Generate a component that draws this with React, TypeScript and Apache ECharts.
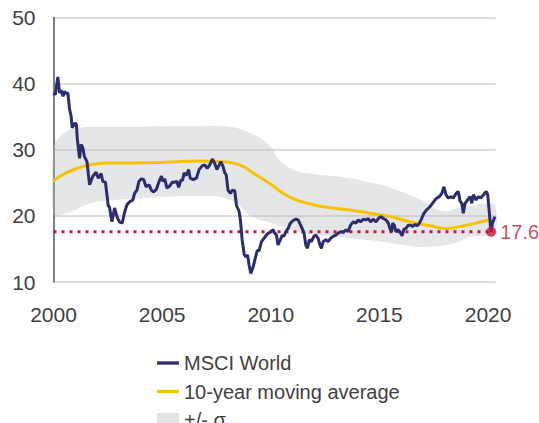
import React, { useEffect, useRef } from "react";
import * as echarts from "echarts";

// MSCI World valuation series
const msciYears = [
  2000.0, 2000.08, 2000.2, 2000.28, 2000.35, 2000.44, 2000.51, 2000.59, 2000.66, 2000.74, 2000.81, 2000.86, 2000.97,
  2001.05, 2001.1, 2001.2, 2001.27, 2001.35, 2001.42, 2001.54, 2001.66, 2001.81, 2001.96, 2002.06, 2002.19, 2002.27,
  2002.39, 2002.47, 2002.52, 2002.57, 2002.69, 2002.81, 2002.92, 2003.03, 2003.16, 2003.26, 2003.38, 2003.53, 2003.65,
  2003.73, 2003.84, 2003.93, 2004.04, 2004.15, 2004.26, 2004.4, 2004.5, 2004.61, 2004.73, 2004.86, 2004.97, 2005.04,
  2005.12, 2005.22, 2005.34, 2005.47, 2005.58, 2005.68, 2005.76, 2005.86, 2005.94, 2006.01, 2006.11, 2006.22, 2006.29,
  2006.43, 2006.58, 2006.7, 2006.85, 2006.96, 2007.07, 2007.19, 2007.31, 2007.41, 2007.52, 2007.61, 2007.7, 2007.8,
  2007.88, 2007.95, 2008.03, 2008.14, 2008.24, 2008.34, 2008.42, 2008.54, 2008.6, 2008.68, 2008.78, 2008.85, 2008.93,
  2009.0, 2009.08, 2009.19, 2009.3, 2009.38, 2009.46, 2009.57, 2009.73, 2009.85, 2009.96, 2010.11, 2010.18, 2010.26,
  2010.33, 2010.44, 2010.53, 2010.6, 2010.69, 2010.8, 2010.9, 2011.03, 2011.15, 2011.26, 2011.33, 2011.44, 2011.53,
  2011.61, 2011.69, 2011.77, 2011.87, 2011.98, 2012.07, 2012.18, 2012.26, 2012.33, 2012.41, 2012.53, 2012.64, 2012.75,
  2012.87, 2012.99, 2013.1, 2013.21, 2013.34, 2013.46, 2013.56, 2013.67, 2013.8, 2013.92, 2014.02, 2014.13, 2014.25,
  2014.38, 2014.49, 2014.59, 2014.71, 2014.84, 2014.95, 2015.06, 2015.18, 2015.3, 2015.41, 2015.48, 2015.56, 2015.61,
  2015.68, 2015.76, 2015.87, 2015.98, 2016.04, 2016.13, 2016.22, 2016.33, 2016.44, 2016.53, 2016.64, 2016.74, 2016.84,
  2016.94, 2017.05, 2017.17, 2017.3, 2017.4, 2017.51, 2017.64, 2017.76, 2017.87, 2017.97, 2018.06, 2018.17, 2018.28,
  2018.4, 2018.53, 2018.63, 2018.71, 2018.79, 2018.86, 2018.94, 2019.05, 2019.17, 2019.25, 2019.32, 2019.45, 2019.55,
  2019.66, 2019.79, 2019.91, 2019.98, 2020.06, 2020.11, 2020.14, 2020.2, 2020.28, 2020.32,
];
const msciValues = [
  38.6, 38.3, 41.0, 38.6, 39.0, 38.1, 38.8, 38.5, 38.6, 36.1, 35.1, 33.3, 34.0,
  33.9, 31.5, 28.7, 30.8, 30.3, 29.0, 28.2, 24.7, 26.0, 26.6, 25.7, 26.4, 25.2,
  25.1, 22.9, 21.5, 21.4, 19.1, 21.2, 19.9, 19.1, 18.9, 20.4, 21.7, 22.2, 22.4,
  23.4, 23.9, 25.2, 25.6, 25.5, 24.4, 24.7, 23.9, 23.6, 24.0, 25.2, 26.0, 25.2,
  25.6, 24.2, 24.5, 25.1, 25.1, 25.2, 24.3, 25.4, 25.4, 26.5, 26.1, 27.0, 25.7,
  25.5, 25.7, 27.0, 27.6, 27.7, 27.2, 27.7, 28.6, 28.0, 27.0, 27.6, 28.2, 27.5,
  26.5, 26.2, 23.9, 23.4, 23.9, 23.8, 21.6, 20.7, 19.4, 16.4, 14.1, 13.8, 14.1,
  12.6, 11.3, 12.3, 13.8, 14.8, 14.7, 16.1, 16.8, 17.3, 17.5, 17.9, 17.4, 17.1,
  15.6, 16.4, 17.1, 16.9, 17.6, 18.1, 18.9, 19.3, 19.5, 19.4, 18.9, 18.1, 17.4,
  15.6, 15.1, 16.4, 16.1, 16.9, 17.1, 16.6, 15.6, 15.1, 16.1, 16.4, 16.1, 16.6,
  16.9, 17.1, 17.4, 17.6, 17.5, 17.9, 17.6, 18.6, 19.1, 18.9, 19.4, 19.1, 19.5,
  19.4, 19.6, 19.1, 19.5, 19.1, 19.6, 19.9, 19.6, 19.4, 18.9, 18.1, 17.6, 18.9,
  18.6, 17.6, 17.9, 17.4, 17.0, 18.0, 18.1, 18.6, 18.6, 18.4, 18.7, 18.5, 18.9,
  19.6, 20.4, 20.9, 21.3, 21.7, 22.2, 22.7, 22.9, 23.4, 24.4, 23.2, 22.7, 22.9,
  22.7, 23.4, 23.7, 22.2, 21.9, 20.4, 21.9, 22.4, 22.9, 21.9, 23.2, 22.4, 22.9,
  22.7, 23.2, 23.7, 23.2, 20.4, 18.4, 17.6, 18.9, 19.6, 19.9,
];

// 10-year moving average
const maYears = [
  2000.0, 2000.58, 2001.2, 2001.81, 2002.58, 2003.66, 2005.19, 2006.73, 2007.65, 2008.26, 2008.72, 2009.18,
  2009.95, 2010.57, 2011.18, 2011.95, 2012.57, 2013.64, 2014.56, 2015.48, 2016.41, 2017.33, 2018.1, 2018.56,
  2019.17, 2019.78, 2020.14,
];
const maValues = [
  25.3, 26.5, 27.3, 27.8, 28.0, 28.0, 28.1, 28.3, 28.2, 28.0, 27.5, 26.5,
  24.9, 23.4, 22.4, 21.7, 21.3, 20.9, 20.4, 19.9, 19.1, 18.5, 18.1, 18.3,
  18.7, 19.2, 19.4,
];

// +/- sigma band
const bandUpperYears = [
  2000.0, 2000.3, 2000.7, 2001.35, 2002.1, 2003.7, 2005.5, 2006.7, 2007.7, 2008.3, 2008.8, 2009.2, 2009.6,
  2009.95, 2010.26, 2010.72, 2011.1, 2011.5, 2012.3, 2013.0, 2013.8, 2014.6, 2015.2, 2015.8, 2016.6, 2017.2,
  2017.6, 2018.1, 2018.6, 2019.2, 2019.7, 2020.32,
];
const bandUpper = [
  30.5, 32.0, 33.0, 33.4, 33.5, 33.5, 33.6, 33.6, 33.6, 33.4, 32.9, 32.3, 31.6,
  30.6, 29.0, 27.5, 26.9, 26.5, 26.2, 26.0, 25.6, 25.0, 24.6, 23.9, 22.9, 21.9,
  21.0, 20.7, 21.2, 21.5, 21.8, 21.7,
];
const bandLowerYears = [
  2000.0, 2000.6, 2001.0, 2001.35, 2002.1, 2003.7, 2005.2, 2006.7, 2007.65, 2008.26, 2008.6, 2008.88, 2009.2,
  2009.49, 2009.95, 2010.72, 2011.5, 2013.0, 2014.56, 2015.3, 2016.1, 2016.87, 2017.64, 2018.1, 2018.56, 2019.17,
  2019.7, 2020.32,
];
const bandLower = [
  20.2, 20.4, 20.9, 21.5, 22.2, 22.6, 22.9, 23.0, 22.9, 22.2, 21.4, 20.4, 19.8,
  19.4, 19.0, 18.1, 17.4, 16.8, 16.3, 16.0, 15.6, 15.3, 15.4, 15.6, 16.0, 16.8,
  17.0, 17.1,
];

// Current reading
const currentYear = 2020.14;
const currentValue = 17.6;

const yTicks = [10, 20, 30, 40, 50];
const xTickYears = [2000, 2005, 2010, 2015, 2020];

const NAVY = "#2b2d6e";
const GOLD = "#f7c300";
const RED = "#c8173a";
const BAND = "rgba(184,186,190,0.36)";
const TEXT = "#404040";
const FONT = "'Liberation Sans', Arial, sans-serif";
const LINE_ICON = "path://M0,0H20V3H0Z";

export default function App() {
  const ref = useRef<HTMLDivElement>(null);

  useEffect(() => {
    if (!ref.current) return;
    const chart = echarts.init(ref.current, null, { renderer: "svg" });

    const msciData = msciYears.map((y, i) => [y, msciValues[i]]);
    const maData = maYears.map((y, i) => [y, maValues[i]]);

    const option: any = {
      animation: false,
      textStyle: { fontFamily: FONT },
      grid: {
        left: 53.5,
        right: 43.3,
        top: 17.5,
        bottom: 178,
        containLabel: false,
        outerBoundsMode: "none",
      },
      xAxis: {
        type: "value",
        min: 2000,
        max: 2020.35,
        interval: 5,
        axisLine: { show: false },
        axisTick: { show: false },
        splitLine: { show: false },
        axisLabel: {
          fontSize: 21,
          color: TEXT,
          fontFamily: FONT,
          margin: 22,
          showMaxLabel: false,
          formatter: (v: number) => (xTickYears.includes(v) ? String(v) : ""),
        },
      },
      yAxis: {
        type: "value",
        min: yTicks[0],
        max: yTicks[yTicks.length - 1],
        interval: 10,
        axisLine: { show: true, lineStyle: { color: "#555555", width: 1.5 } },
        axisTick: { show: false },
        splitLine: { show: true, lineStyle: { color: "#d2d2d2", width: 1.5 } },
        axisLabel: { fontSize: 21, color: TEXT, fontFamily: FONT, margin: 18 },
      },
      legend: {
        orient: "vertical",
        left: 152,
        top: 348,
        itemWidth: 22,
        itemHeight: 14,
        itemGap: 8.5,
        symbolKeepAspect: true,
        textStyle: { fontSize: 20, color: TEXT, fontFamily: FONT, lineHeight: 20 },
        data: [
          { name: "MSCI World", icon: LINE_ICON, itemStyle: { color: NAVY } },
          { name: "10-year moving average", icon: LINE_ICON, itemStyle: { color: GOLD } },
          { name: "+/- σ", icon: "rect", itemStyle: { color: "#e2e3e5" } },
        ],
      },
      series: [
        {
          name: "+/- σ",
          type: "custom",
          z: 1,
          silent: true,
          itemStyle: { color: BAND },
          data: [[2000, 25]],
          encode: { x: 0, y: 1 },
          renderItem: (params: any, api: any) => {
            if (params.dataIndex !== 0) return null;
            const pts: number[][] = [];
            bandUpperYears.forEach((y, i) => pts.push(api.coord([y, bandUpper[i]])));
            for (let i = bandLowerYears.length - 1; i >= 0; i--) {
              pts.push(api.coord([bandLowerYears[i], bandLower[i]]));
            }
            return {
              type: "polygon",
              shape: { points: pts, smooth: 0.25 },
              style: { fill: BAND },
            };
          },
        },
        {
          name: "10-year moving average",
          type: "line",
          z: 2,
          data: maData,
          smooth: true,
          symbol: "none",
          lineStyle: { color: GOLD, width: 3 },
          itemStyle: { color: GOLD },
        },
        {
          name: "current",
          type: "line",
          z: 3,
          data: [
            [2000, currentValue],
            [currentYear, currentValue],
          ],
          symbol: "none",
          lineStyle: { color: RED, width: 3, type: [3, 5] },
          itemStyle: { color: RED },
        },
        {
          name: "MSCI World",
          type: "line",
          z: 4,
          data: msciData,
          symbol: "none",
          lineStyle: { color: NAVY, width: 3 },
          itemStyle: { color: NAVY },
        },
        {
          name: "currentDot",
          type: "scatter",
          z: 5,
          data: [[currentYear, currentValue]],
          symbol: "circle",
          symbolSize: 10,
          itemStyle: { color: RED },
          label: {
            show: true,
            position: "right",
            distance: 4,
            formatter: String(currentValue),
            fontSize: 20,
            color: RED,
            fontFamily: FONT,
          },
        },
      ],
    };

    chart.setOption(option);
    return () => chart.dispose();
  }, []);

  return (
    <div
      ref={ref}
      style={{ position: "fixed", left: 0, top: 0, width: 539, height: 460, background: "#ffffff" }}
    />
  );
}
